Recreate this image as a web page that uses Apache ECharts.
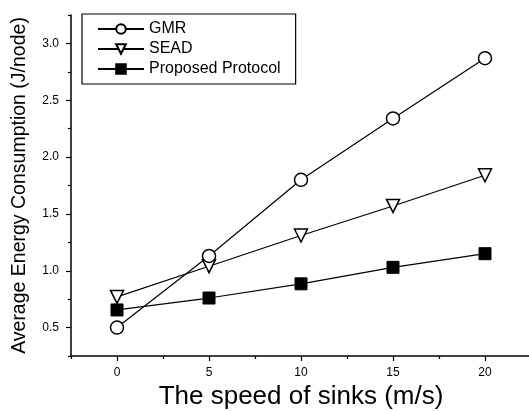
<!DOCTYPE html>
<html><head><meta charset="utf-8">
<script src="https://cdn.jsdelivr.net/npm/echarts@6/dist/echarts.min.js"></script>
<style>html,body{margin:0;padding:0;background:#fff}#c{width:529px;height:411px}</style>
</head><body><div id="c"></div>
<script>
const speeds = [0, 5, 10, 15, 20];
const gmr = [0.50, 1.13, 1.80, 2.34, 2.87];
const sead = [0.77, 1.04, 1.31, 1.57, 1.84];
const proposed = [0.655, 0.76, 0.885, 1.03, 1.15];
const xMajor = [0, 5, 10, 15, 20];
const xMinor = [-2.5, 2.5, 7.5, 12.5, 17.5, 22.5];
const yMajor = [0.5, 1.0, 1.5, 2.0, 2.5, 3.0];
const yMinor = [0.25, 0.75, 1.25, 1.75, 2.25, 2.75, 3.25];

const font = 'Liberation Sans, Arial, sans-serif';
const chart = echarts.init(document.getElementById('c'), null, {renderer: 'canvas'});
const pairs = a => speeds.map((s, i) => [s, a[i]]);
const lineStyle = {color: '#000', width: 1.2};
chart.setOption({
  animation: false,
  backgroundColor: '#fff',
  grid: {left: 71, top: 15, width: 460, height: 341, outerBoundsMode: 'none', containLabel: false},
  legend: {
    left: 82, top: 14, orient: 'vertical',
    borderColor: '#000', borderWidth: 1.2, borderRadius: 0,
    padding: [7, 15, 7, 15], itemGap: 4, itemWidth: 46, itemHeight: 12,
    textStyle: {fontFamily: font, fontSize: 16, color: '#000', lineHeight: 16},
    data: ['GMR', 'SEAD', 'Proposed Protocol']
  },
  xAxis: [{
    type: 'value', min: -2.5, max: 22.5, position: 'bottom',
    name: 'The speed of sinks (m/s)', nameLocation: 'middle', nameGap: 24,
    nameTextStyle: {fontFamily: font, fontSize: 26, color: '#000'},
    axisLine: {show: true, onZero: false, lineStyle: {color: '#000', width: 1.5}},
    axisTick: {show: true, length: 5, customValues: xMajor, lineStyle: {color: '#000', width: 1.2}},
    axisLabel: {customValues: xMajor, margin: 11, fontFamily: font, fontSize: 12, color: '#000'},
    splitLine: {show: false}
  }, {
    type: 'value', min: -2.5, max: 22.5, position: 'bottom', offset: 0,
    axisLine: {show: false, onZero: false},
    axisTick: {show: true, length: 3, customValues: xMinor, lineStyle: {color: '#000', width: 1.2}},
    axisLabel: {show: false},
    splitLine: {show: false}
  }],
  yAxis: [{
    type: 'value', min: 0.25, max: 3.25, position: 'left',
    name: 'Average Energy Consumption (J/node)', nameLocation: 'middle', nameGap: 41,
    nameTextStyle: {fontFamily: font, fontSize: 19.5, color: '#000'},
    axisLine: {show: true, onZero: false, lineStyle: {color: '#000', width: 1.5}},
    axisTick: {show: true, length: 5, customValues: yMajor, lineStyle: {color: '#000', width: 1.2}},
    axisLabel: {customValues: yMajor, margin: 12, fontFamily: font, fontSize: 12, color: '#000',
      formatter: v => v.toFixed(1)},
    splitLine: {show: false}
  }, {
    type: 'value', min: 0.25, max: 3.25, position: 'left', offset: 0,
    axisLine: {show: false, onZero: false},
    axisTick: {show: true, length: 3, customValues: yMinor, lineStyle: {color: '#000', width: 1.2}},
    axisLabel: {show: false},
    splitLine: {show: false}
  }],
  series: [{
    name: 'GMR', type: 'line', data: pairs(gmr), symbol: 'circle', symbolSize: 13,
    itemStyle: {color: '#fff', borderColor: '#000', borderWidth: 1.5},
    lineStyle: lineStyle, z: 3
  }, {
    name: 'SEAD', type: 'line', data: pairs(sead), symbol: 'triangle', symbolSize: 13, symbolRotate: 180,
    itemStyle: {color: '#fff', borderColor: '#000', borderWidth: 1.5},
    lineStyle: lineStyle, z: 2
  }, {
    name: 'Proposed Protocol', type: 'line', data: pairs(proposed), symbol: 'rect', symbolSize: 12,
    itemStyle: {color: '#000', borderColor: '#000', borderWidth: 1},
    lineStyle: lineStyle, z: 4
  }]
});
</script></body></html>
